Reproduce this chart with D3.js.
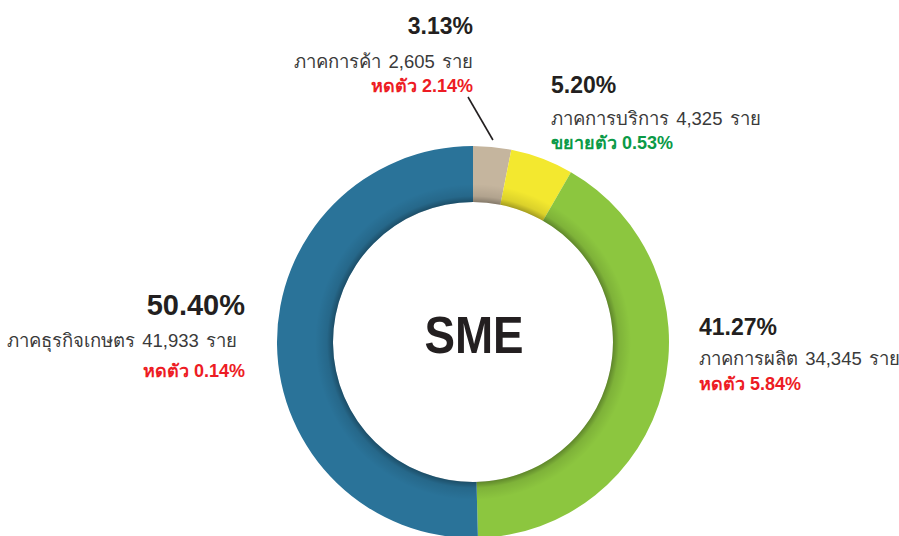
<!DOCTYPE html>
<html><head><meta charset="utf-8">
<script src="https://cdn.jsdelivr.net/npm/d3@7"></script>
<style>
html,body{margin:0;padding:0;background:#fff;}
svg{display:block;}
text{font-family:"Liberation Sans","Noto Sans",Arial,sans-serif;}
</style></head>
<body>
<svg id="chart" width="899" height="536"></svg>
<script>
// ---- data ----
const sectors = ["ภาคการค้า", "ภาคการบริการ", "ภาคการผลิต", "ภาคธุรกิจเกษตร"];
const shares = [3.13, 5.20, 41.27, 50.40];
const counts = ["2,605", "4,325", "34,345", "41,933"];
const changeWords = ["หดตัว", "ขยายตัว", "หดตัว", "หดตัว"];
const changes = ["2.14%", "0.53%", "5.84%", "0.14%"];
const centerLabel = "SME";

// ---- style / layout ----
const colors = ["#c5b59e", "#f3e82f", "#8cc63f", "#2a7399"];
const changeColors = ["#ed1c24", "#0b9a47", "#ed1c24", "#ed1c24"];
const cx = 473, cy = 342, rOuter = 196, rInner = 140;
const layout = [
  {x: 473, y: 34, anchor: "end", fs: 23, lead: [34, 58], dx: 0},
  {x: 551, y: 93, anchor: "start", fs: 23, lead: [32, 56], dx: 0},
  {x: 699, y: 335, anchor: "start", fs: 23, lead: [30, 55], dx: 0},
  {x: 245, y: 315, anchor: "end", fs: 29, lead: [32, 62], dx: -8}
];

const svg = d3.select("#chart");
const defs = svg.append("defs");
const grad = defs.append("radialGradient").attr("id", "innerShade")
  .attr("gradientUnits", "userSpaceOnUse").attr("cx", 0).attr("cy", 0).attr("r", rOuter);
grad.append("stop").attr("offset", rInner / rOuter).attr("stop-color", "#000").attr("stop-opacity", 0.32);
grad.append("stop").attr("offset", (rInner + 6) / rOuter).attr("stop-color", "#000").attr("stop-opacity", 0.1);
grad.append("stop").attr("offset", (rInner + 18) / rOuter).attr("stop-color", "#000").attr("stop-opacity", 0);

const pie = d3.pie().sort(null).value(d => d);
const arcs = pie(shares);
const arc = d3.arc().innerRadius(rInner).outerRadius(rOuter);

const g = svg.append("g").attr("transform", `translate(${cx},${cy})`);
g.selectAll("path.slice").data(arcs).join("path")
  .attr("class", "slice")
  .attr("d", arc)
  .attr("fill", (d, i) => colors[i]);

// inner shadow ring
g.append("path")
  .attr("d", d3.arc().innerRadius(rInner).outerRadius(rInner + 20).startAngle(0).endAngle(2 * Math.PI)())
  .attr("fill", "url(#innerShade)");

// center label
svg.append("text")
  .attr("transform", `translate(${cx + 1},353) scale(0.88,1)`)
  .attr("text-anchor", "middle")
  .attr("font-size", 52).attr("font-weight", "bold")
  .attr("fill", "#231f20")
  .text(centerLabel);

// leader line for smallest slice
const a0 = (arcs[0].startAngle + arcs[0].endAngle) / 2;
const rl = rOuter + 7;
svg.append("line")
  .attr("x1", cx + rl * Math.sin(a0)).attr("y1", cy - rl * Math.cos(a0))
  .attr("x2", 468).attr("y2", 97)
  .attr("stroke", "#231f20").attr("stroke-width", 1.6);

// labels
sectors.forEach((s, i) => {
  const L = layout[i];
  const t = svg.append("g");
  t.append("text").attr("x", L.x).attr("y", L.y).attr("text-anchor", L.anchor)
    .attr("font-size", L.fs).attr("font-weight", "bold").attr("fill", "#231f20")
    .text(d3.format(".2f")(shares[i]) + "%");
  t.append("text").attr("x", L.x + L.dx).attr("y", L.y + L.lead[0]).attr("text-anchor", L.anchor)
    .attr("font-size", 18.5).attr("fill", "#3a3a3a").attr("word-spacing", 2)
    .text(`${s} ${counts[i]} ราย`);
  t.append("text").attr("x", L.x).attr("y", L.y + L.lead[1]).attr("text-anchor", L.anchor)
    .attr("font-size", 18).attr("font-weight", "bold").attr("fill", changeColors[i])
    .text(`${changeWords[i]} ${changes[i]}`);
});
</script>
</body></html>
